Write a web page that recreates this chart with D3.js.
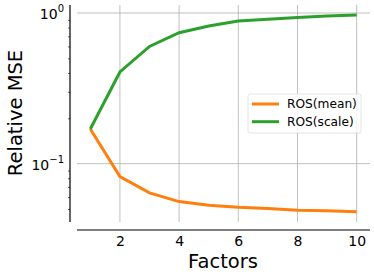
<!DOCTYPE html>
<html>
<meta http-equiv="content-type" content="text/html; charset=utf-8" />
<head>
    <title>Relative MSE</title>
</head>
<style>
body { margin: 0; background: #fff; }
text { font-family: "DejaVu Sans", sans-serif; fill: #000; }
.grid line { stroke: #b0b0b0; stroke-width: 0.8; }
.axis path, .axis line { fill: none; stroke: #000; }
</style>
<body>
<svg class="chart"></svg>
<script src="https://d3js.org/d3.v7.min.js"></script>
<script type="text/javascript">
  var factors = [1, 2, 3, 4, 5, 6, 7, 8, 9, 10];
  var rosMean = [0.17, 0.082, 0.064, 0.056, 0.053, 0.0513, 0.0504, 0.049, 0.0486, 0.0479];
  var rosScale = [0.17, 0.406, 0.60, 0.74, 0.82, 0.885, 0.91, 0.935, 0.955, 0.97];
  var xTicks = [2, 4, 6, 8, 10];
  var seriesNames = ["ROS(mean)", "ROS(scale)"];
  var colors = ["#ff7f0e", "#2ca02c"];

  var W = 374, H = 278;
  var pl = 77, pr = 370, pt = 5, pb = 222;

  var svg = d3.select(".chart").attr("width", W).attr("height", H);

  var x = d3.scaleLinear().domain([0.55, 10.45]).range([pl, pr]);
  var y = d3.scaleLog().domain([0.041, 1.13]).range([pb, pt]);

  // grid
  var grid = svg.append("g").attr("class", "grid");
  grid.selectAll(".v").data(xTicks).enter().append("line")
    .attr("x1", function(d) { return x(d); }).attr("x2", function(d) { return x(d); })
    .attr("y1", pt).attr("y2", pb);
  grid.selectAll(".h").data([0.1, 1]).enter().append("line")
    .attr("x1", pl).attr("x2", pr)
    .attr("y1", function(d) { return y(d); }).attr("y2", function(d) { return y(d); });

  // lines
  var line = d3.line()
    .x(function(d) { return x(d[0]); })
    .y(function(d) { return y(d[1]); });
  [rosMean, rosScale].forEach(function(s, i) {
    svg.append("path")
      .datum(factors.map(function(f, j) { return [f, s[j]]; }))
      .attr("fill", "none")
      .attr("stroke", colors[i])
      .attr("stroke-width", 3)
      .attr("d", line);
  });

  // x axis (offset)
  var xAxis = svg.append("g").attr("class", "axis")
    .attr("transform", "translate(0,230)")
    .call(d3.axisBottom(x).tickValues(xTicks).tickSize(0).tickPadding(6).tickFormat(d3.format("d")));
  xAxis.select(".domain").attr("d", "M" + pl + ",0H" + pr).attr("stroke-width", 1.2);
  xAxis.selectAll("text").style("font-size", "14px");

  // y axis (offset)
  var minors = [0.05, 0.06, 0.07, 0.08, 0.09, 0.2, 0.3, 0.4, 0.5, 0.6, 0.7, 0.8, 0.9];
  var yAxis = svg.append("g").attr("class", "axis")
    .attr("transform", "translate(70,0)")
    .call(d3.axisLeft(y).tickValues(minors).tickSize(2).tickFormat(""));
  yAxis.select(".domain").attr("d", "M0," + pt + "V" + pb).attr("stroke-width", 1.2);
  yAxis.selectAll(".tick line").attr("stroke-width", 0.6);

  var yLabels = svg.append("g");
  [[1, "0"], [0.1, "\u22121"]].forEach(function(t) {
    var txt = yLabels.append("text")
      .attr("x", 64).attr("y", y(t[0]) + 6)
      .attr("text-anchor", "end")
      .style("font-size", "14px");
    txt.append("tspan").text("10");
    txt.append("tspan").attr("dy", -7).style("font-size", "10px").text(t[1]);
  });

  // axis titles
  svg.append("text")
    .attr("x", 223).attr("y", 268)
    .attr("text-anchor", "middle")
    .style("font-size", "19.5px")
    .text("Factors");
  svg.append("text")
    .attr("transform", "translate(22,113) rotate(-90)")
    .attr("text-anchor", "middle")
    .style("font-size", "19.5px")
    .text("Relative MSE");

  // legend
  var lg = svg.append("g").attr("transform", "translate(248,94)");
  lg.append("rect").attr("width", 113).attr("height", 39).attr("rx", 2)
    .attr("fill", "#fff").attr("fill-opacity", 0.8).attr("stroke", "#dddddd").attr("stroke-width", 0.8);
  seriesNames.forEach(function(n, i) {
    var yy = 10 + i * 17.7;
    lg.append("line").attr("x1", 4).attr("x2", 31).attr("y1", yy).attr("y2", yy)
      .attr("stroke", colors[i]).attr("stroke-width", 3);
    lg.append("text").attr("x", 39).attr("y", yy + 4.3).style("font-size", "12.2px").text(n);
  });
</script>
</body>
</html>
